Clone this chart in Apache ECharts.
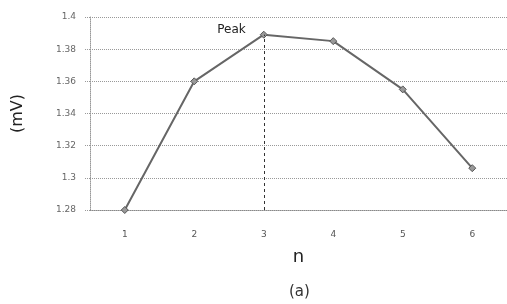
<!DOCTYPE html>
<html>
<head>
<meta charset="utf-8">
<script src="https://cdn.jsdelivr.net/npm/echarts@6/dist/echarts.min.js"></script>
<style>
html, body { margin: 0; padding: 0; background: #fff; }
#chart { width: 507px; height: 304px; }
</style>
</head>
<body>
<div id="chart"></div>
<script>
// 数据
var nValues = ['1', '2', '3', '4', '5', '6'];
var mvValues = [1.28, 1.36, 1.389, 1.385, 1.355, 1.306];
var peakIndex = 2;

var myChart = echarts.init(document.getElementById('chart'));

var seriesData = mvValues.map(function (v, i) {
    if (i === peakIndex) {
        return {
            value: v,
            label: {
                show: true,
                formatter: 'Peak',
                position: 'left',
                distance: 14,
                offset: [0, -5],
                fontFamily: 'DejaVu Sans',
                fontSize: 12,
                color: '#222'
            }
        };
    }
    return v;
});

var option = {
    animation: false,
    grid: { left: 90, right: 0, top: 17, bottom: 94 },
    xAxis: {
        type: 'category',
        data: nValues,
        name: 'n',
        nameLocation: 'middle',
        nameGap: 38,
        nameTextStyle: { fontSize: 18, color: '#222', fontFamily: 'DejaVu Sans' },
        axisLine: { lineStyle: { color: '#888', type: 'dotted' } },
        axisTick: { length: 3, lineStyle: { color: '#888' } },
        axisLabel: { margin: 20, fontSize: 9, color: '#555', fontFamily: 'DejaVu Sans' }
    },
    yAxis: {
        type: 'value',
        min: 1.28,
        max: 1.4,
        interval: 0.02,
        name: '(mV)',
        nameLocation: 'middle',
        nameRotate: 90,
        nameGap: 64,
        nameTextStyle: { fontSize: 16, color: '#222', fontFamily: 'DejaVu Sans' },
        axisLine: { show: true, lineStyle: { color: '#999', type: 'dotted' } },
        axisTick: { show: true, length: 5, lineStyle: { color: '#999', type: 'dotted' } },
        axisLabel: {
            margin: 14, fontSize: 9, color: '#666', fontFamily: 'DejaVu Sans',
            formatter: function (v) { return String(Math.round(v * 100) / 100); }
        },
        splitLine: { lineStyle: { color: '#999', type: 'dotted' } }
    },
    series: [{
        type: 'line',
        data: seriesData,
        symbol: 'diamond',
        symbolSize: 7,
        lineStyle: { color: '#666', width: 2 },
        itemStyle: { color: '#999', borderColor: '#555', borderWidth: 1 },
        markLine: {
            silent: true,
            symbol: 'none',
            label: { show: false },
            lineStyle: { color: '#333', type: [3, 3], width: 1 },
            data: [[
                { coord: [peakIndex, 1.28] },
                { coord: [peakIndex, mvValues[peakIndex]] }
            ]]
        }
    }],
    graphic: [{
        type: 'text',
        left: 289,
        top: 285,
        style: { text: '(a)', fontSize: 15, fill: '#333', fontFamily: 'DejaVu Sans' }
    }]
};

option && myChart.setOption(option);
</script>
</body>
</html>
